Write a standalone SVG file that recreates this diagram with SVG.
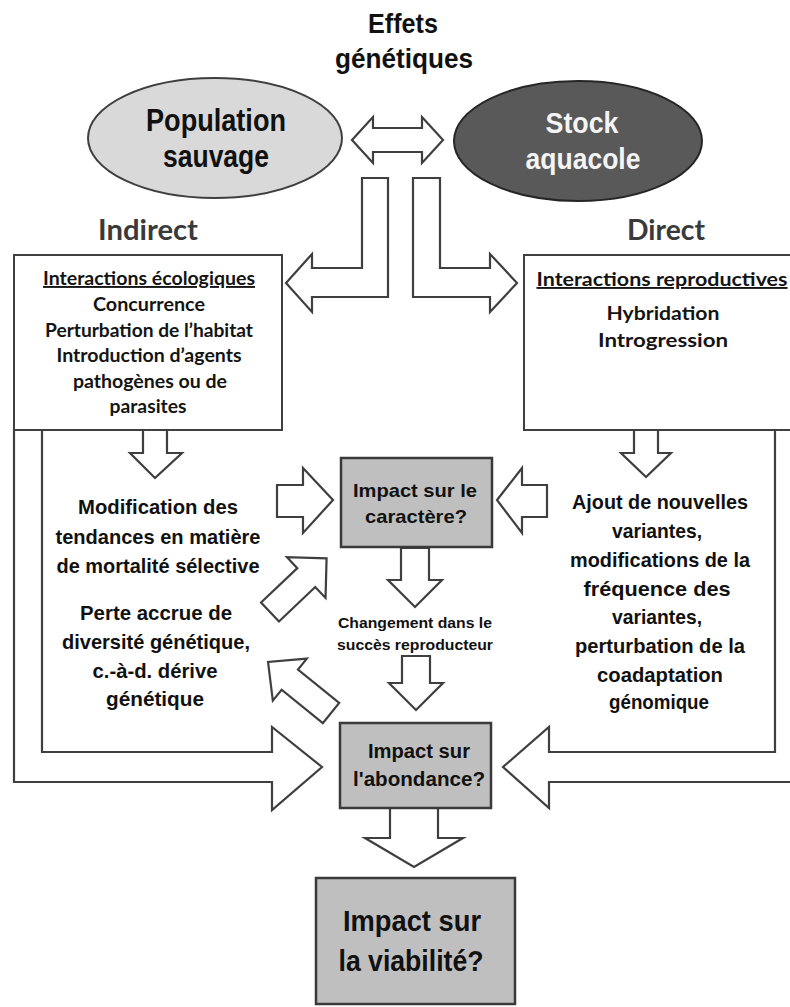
<svg xmlns="http://www.w3.org/2000/svg" width="790" height="1007" viewBox="0 0 790 1007">
<style>
.ar{fill:#fff;stroke:#3f3f3f;stroke-width:2.2;stroke-linejoin:miter}
.box{fill:#fff;stroke:#3f3f3f;stroke-width:2}
.gbox{fill:#bfbfbf;stroke:#3a3a3a;stroke-width:2.5}
.n{font-family:"Liberation Sans Narrow","Liberation Sans",Arial,sans-serif;font-weight:bold;text-anchor:middle;fill:#111}
.c{font-family:Lato,"Open Sans",sans-serif;font-weight:bold;text-anchor:middle;fill:#141414}
.h{font-family:Lato,"Open Sans",sans-serif;font-weight:bold;text-anchor:middle;fill:#3a3a3a}
</style>
<rect x="0" y="0" width="790" height="1007" fill="#fff"/>
<g id="connectors">
<polygon class="ar" points="352,140 373,117 373,128 422,128 422,117 443,140 422,163 422,152 373,152 373,163"/>
<polygon class="ar" points="362,178 388,178 388,297 312,297 312,312 286,283 312,254 312,268 362,268"/>
<polygon class="ar" points="413,178 440,178 440,268 490,268 490,254 517,283 490,312 490,297 413,297"/>
<polygon class="ar" points="143,430 167,430 167,453 182,453 155,478 130,453 143,453"/>
<polygon class="ar" points="634,430 658,430 658,453 671,453 646,477 621,453 634,453"/>
<polygon class="ar" points="277,485 303,485 303,468 333,500 303,533 303,517 277,517"/>
<polygon class="ar" points="547,485 522,485 522,468 497,500 522,533 522,517 547,517"/>
<polygon class="ar" points="401,548 429,548 429,580 442,580 415,607 388,580 401,580"/>
<polygon class="ar" points="402,656 430,656 430,683 443,683 416,710 389,683 402,683"/>
<polygon class="ar" points="390,808 438,808 438,838 463,838 414,867 365,838 390,838"/>
<polygon class="ar" points="0,-13 50,-13 50,-28 78,0 50,28 50,13 0,13" transform="translate(270,612) rotate(-43.5)"/>
<polygon class="ar" points="0,-13 53,-13 53,-27 81,0 53,27 53,13 0,13" transform="translate(331,713) rotate(-141)"/>
<polygon class="ar" points="14,430 14,782 272,782 272,810 322,767 272,727 272,752 42,752 42,430"/>
<polygon class="ar" points="775,430 775,752 549,752 549,727 503,767 549,808 549,782 800,782 800,430"/>
</g>
<g id="title">
<text class="n" x="403" y="33" font-size="28" textLength="70" lengthAdjust="spacingAndGlyphs">Effets</text>
<text class="n" x="404" y="68" font-size="28" textLength="138" lengthAdjust="spacingAndGlyphs">génétiques</text>
</g>
<g id="population">
<ellipse cx="215" cy="138" rx="127" ry="60" fill="#d9d9d9" stroke="#3f3f3f" stroke-width="2"/>
<text class="n" x="216" y="131" font-size="31" textLength="140" lengthAdjust="spacingAndGlyphs">Population</text>
<text class="n" x="216" y="167" font-size="31" textLength="106" lengthAdjust="spacingAndGlyphs">sauvage</text>
</g>
<g id="stock">
<ellipse cx="578" cy="141" rx="124" ry="60" fill="#595959" stroke="#262626" stroke-width="2"/>
<text class="n" x="582" y="133" font-size="30" style="fill:#f4f4f4" textLength="73" lengthAdjust="spacingAndGlyphs">Stock</text>
<text class="n" x="583" y="169" font-size="30" style="fill:#f4f4f4" textLength="115" lengthAdjust="spacingAndGlyphs">aquacole</text>
</g>
<g id="indirect-label">
<text class="h" x="148" y="240" font-size="28" textLength="100" lengthAdjust="spacingAndGlyphs">Indirect</text>
</g>
<g id="direct-label">
<text class="h" x="666" y="240" font-size="28" textLength="78" lengthAdjust="spacingAndGlyphs">Direct</text>
</g>
<g id="ecological">
<rect class="box" x="14" y="255" width="268" height="175"/>
<text class="c" x="149" y="285" font-size="19" text-decoration="underline" textLength="212" lengthAdjust="spacingAndGlyphs">Interactions écologiques</text>
<text class="c" x="149" y="311" font-size="19" textLength="112" lengthAdjust="spacingAndGlyphs">Concurrence</text>
<text class="c" x="149" y="337" font-size="19" textLength="208" lengthAdjust="spacingAndGlyphs">Perturbation de l’habitat</text>
<text class="c" x="149" y="362" font-size="19" textLength="185" lengthAdjust="spacingAndGlyphs">Introduction d’agents</text>
<text class="c" x="150" y="388" font-size="19" textLength="154" lengthAdjust="spacingAndGlyphs">pathogènes ou de</text>
<text class="c" x="148" y="413" font-size="19" textLength="77" lengthAdjust="spacingAndGlyphs">parasites</text>
</g>
<g id="reproductive">
<rect class="box" x="524" y="255" width="280" height="175"/>
<text class="c" x="662" y="286" font-size="19" text-decoration="underline" textLength="251" lengthAdjust="spacingAndGlyphs">Interactions reproductives</text>
<text class="c" x="663" y="320" font-size="19" textLength="113" lengthAdjust="spacingAndGlyphs">Hybridation</text>
<text class="c" x="663" y="347" font-size="19" textLength="130" lengthAdjust="spacingAndGlyphs">Introgression</text>
</g>
<g id="left-effects">
<text class="n" x="158" y="514" font-size="21" textLength="160" lengthAdjust="spacingAndGlyphs">Modification des</text>
<text class="n" x="158" y="544" font-size="21" textLength="205" lengthAdjust="spacingAndGlyphs">tendances en matière</text>
<text class="n" x="158" y="573" font-size="21" textLength="203" lengthAdjust="spacingAndGlyphs">de mortalité sélective</text>
<text class="n" x="156" y="620" font-size="21" textLength="152" lengthAdjust="spacingAndGlyphs">Perte accrue de</text>
<text class="n" x="156" y="649" font-size="21" textLength="188" lengthAdjust="spacingAndGlyphs">diversité génétique,</text>
<text class="n" x="155" y="678" font-size="21" textLength="125" lengthAdjust="spacingAndGlyphs">c.-à-d. dérive</text>
<text class="n" x="155" y="706" font-size="21" textLength="98" lengthAdjust="spacingAndGlyphs">génétique</text>
</g>
<g id="right-effects">
<text class="n" x="660" y="509" font-size="21" textLength="176" lengthAdjust="spacingAndGlyphs">Ajout de nouvelles</text>
<text class="n" x="657" y="538" font-size="21" textLength="90" lengthAdjust="spacingAndGlyphs">variantes,</text>
<text class="n" x="660" y="567" font-size="21" textLength="180" lengthAdjust="spacingAndGlyphs">modifications de la</text>
<text class="n" x="657" y="596" font-size="21" textLength="147" lengthAdjust="spacingAndGlyphs">fréquence des</text>
<text class="n" x="657" y="624" font-size="21" textLength="90" lengthAdjust="spacingAndGlyphs">variantes,</text>
<text class="n" x="660" y="653" font-size="21" textLength="170" lengthAdjust="spacingAndGlyphs">perturbation de la</text>
<text class="n" x="660" y="682" font-size="21" textLength="126" lengthAdjust="spacingAndGlyphs">coadaptation</text>
<text class="n" x="659" y="709" font-size="21" textLength="100" lengthAdjust="spacingAndGlyphs">génomique</text>
</g>
<g id="impact-caractere">
<rect class="gbox" x="341" y="458" width="151" height="89"/>
<text class="n" x="415" y="497" font-size="19" textLength="124" lengthAdjust="spacingAndGlyphs">Impact sur le</text>
<text class="n" x="416" y="523" font-size="19" textLength="102" lengthAdjust="spacingAndGlyphs">caractère?</text>
</g>
<g id="changement">
<text class="n" x="415" y="628" font-size="15" textLength="154" lengthAdjust="spacingAndGlyphs">Changement dans le</text>
<text class="n" x="415" y="650" font-size="15" textLength="156" lengthAdjust="spacingAndGlyphs">succès reproducteur</text>
</g>
<g id="impact-abondance">
<rect class="gbox" x="340" y="723" width="151" height="85"/>
<text class="n" x="419" y="758" font-size="20" textLength="102" lengthAdjust="spacingAndGlyphs">Impact sur</text>
<text class="n" x="419" y="786" font-size="20" textLength="132" lengthAdjust="spacingAndGlyphs">l'abondance?</text>
</g>
<g id="impact-viabilite">
<rect class="gbox" x="316" y="878" width="199" height="126"/>
<text class="n" x="412" y="931" font-size="30" textLength="138" lengthAdjust="spacingAndGlyphs">Impact sur</text>
<text class="n" x="411" y="971" font-size="30" textLength="145" lengthAdjust="spacingAndGlyphs">la viabilité?</text>
</g>
</svg>
